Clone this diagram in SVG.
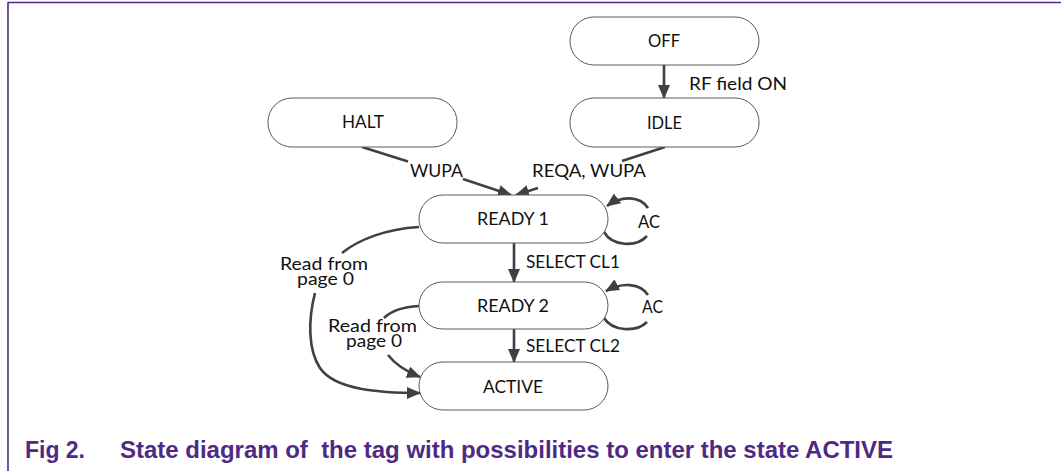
<svg xmlns="http://www.w3.org/2000/svg" width="1061" height="471" viewBox="0 0 1061 471">
<style>
.node rect{fill:#fff;stroke:#5a5a5a;stroke-width:1}
.node text,.lbl{font-family:Lato,"Liberation Sans",sans-serif;font-size:17px;fill:#111}
.node text{text-anchor:middle}
.conn path,.conn line{fill:none;stroke:#404040;stroke-width:2.6}
.cap{font-family:"Liberation Sans",Arial,sans-serif;font-weight:bold;font-size:24px;fill:#4e2a84}
</style>
<defs>
<marker id="ah" markerUnits="userSpaceOnUse" markerWidth="14" markerHeight="12" refX="13" refY="6" orient="auto" viewBox="0 0 14 12">
<path d="M0,0 L14,6 L0,12 z" fill="#404040"/>
</marker>
</defs>
<rect width="1061" height="471" fill="#fff"/>
<g id="frame" stroke="#4e2a84" stroke-width="1.6" fill="none">
<line x1="8" y1="2.5" x2="1061" y2="2.5"/>
<line x1="8" y1="2" x2="8" y2="471"/>
</g>
<g class="conn" id="connectors">
<line x1="664" y1="65" x2="664" y2="98" marker-end="url(#ah)"/>
<line x1="362" y1="147" x2="408" y2="161.6"/>
<line x1="463" y1="179" x2="511" y2="195" marker-end="url(#ah)"/>
<line x1="665" y1="147" x2="622" y2="161"/>
<line x1="538" y1="188" x2="516" y2="195" marker-end="url(#ah)"/>
<line x1="514" y1="243" x2="514" y2="282" marker-end="url(#ah)"/>
<line x1="514" y1="329" x2="514" y2="362" marker-end="url(#ah)"/>
<path d="M604,232 C612,246 636,248 647,236"/>
<path d="M648,208 C640,196 622,195 607,206" marker-end="url(#ah)"/>
<path d="M604,318 C612,331 636,333 647,322"/>
<path d="M648,295 C640,283 622,282 606,291" marker-end="url(#ah)"/>
<path d="M419,227 C385,229 358,240 342,253"/>
<path d="M315,293 C308,320 308,350 320,368 C335,390 380,393 420,393" marker-end="url(#ah)"/>
<path d="M419,306 C402,307 391,311 384,318"/>
<path d="M388,355 C395,364 405,371 420,377" marker-end="url(#ah)"/>
</g>
<g class="lbl" id="labels">
<text x="689" y="90" textLength="98" lengthAdjust="spacingAndGlyphs">RF field ON</text>
<text x="410" y="177" textLength="53" lengthAdjust="spacingAndGlyphs">WUPA</text>
<text x="532" y="177" textLength="114" lengthAdjust="spacingAndGlyphs">REQA, WUPA</text>
<text x="638" y="228" textLength="22" lengthAdjust="spacingAndGlyphs">AC</text>
<text x="642" y="313" textLength="21" lengthAdjust="spacingAndGlyphs">AC</text>
<text x="526" y="268" textLength="94" lengthAdjust="spacingAndGlyphs">SELECT CL1</text>
<text x="526" y="352" textLength="94" lengthAdjust="spacingAndGlyphs">SELECT CL2</text>
<text><tspan x="280" y="270" textLength="88" lengthAdjust="spacingAndGlyphs">Read from</tspan><tspan x="297" y="285" textLength="57" lengthAdjust="spacingAndGlyphs">page 0</tspan></text>
<text><tspan x="328" y="332" textLength="89" lengthAdjust="spacingAndGlyphs">Read from</tspan><tspan x="346" y="347" textLength="56" lengthAdjust="spacingAndGlyphs">page 0</tspan></text>
</g>
<g class="node" id="OFF"><rect x="570" y="17" width="189" height="48" rx="24"/><text x="664" y="47" textLength="32" lengthAdjust="spacingAndGlyphs">OFF</text></g>
<g class="node" id="IDLE"><rect x="570" y="98" width="189" height="49" rx="24"/><text x="664.5" y="129" textLength="35" lengthAdjust="spacingAndGlyphs">IDLE</text></g>
<g class="node" id="HALT"><rect x="268" y="98" width="189" height="49" rx="24"/><text x="363" y="128" textLength="42" lengthAdjust="spacingAndGlyphs">HALT</text></g>
<g class="node" id="READY1"><rect x="419" y="195" width="189" height="48" rx="24"/><text x="513" y="225" textLength="72" lengthAdjust="spacingAndGlyphs">READY 1</text></g>
<g class="node" id="READY2"><rect x="419" y="282" width="189" height="47" rx="23.5"/><text x="513" y="312" textLength="72" lengthAdjust="spacingAndGlyphs">READY 2</text></g>
<g class="node" id="ACTIVE"><rect x="419" y="362" width="189" height="48" rx="24"/><text x="513" y="393" textLength="60" lengthAdjust="spacingAndGlyphs">ACTIVE</text></g>
<g id="caption">
<text class="cap" x="25" y="458" textLength="60" lengthAdjust="spacingAndGlyphs">Fig 2.</text>
<text class="cap" x="120" y="458" textLength="773" lengthAdjust="spacingAndGlyphs" xml:space="preserve">State diagram of  the tag with possibilities to enter the state ACTIVE</text>
</g>
</svg>
